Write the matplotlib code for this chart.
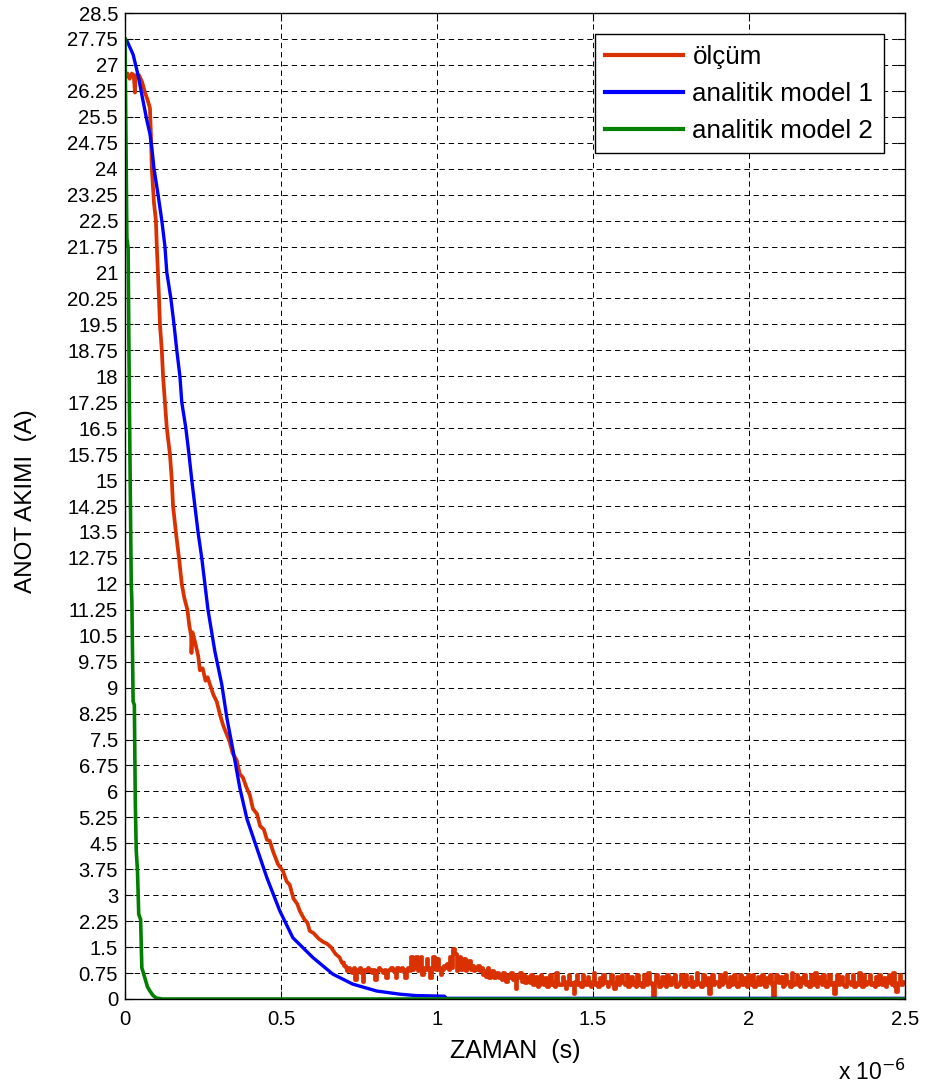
import numpy as np
import matplotlib
matplotlib.use("Agg")
import matplotlib.pyplot as plt

# ---------------- data (time in units of 1e-6 s, current in A) ----------------
red_head_t = [0.000, 0.008, 0.015, 0.022, 0.028, 0.032, 0.034, 0.045, 0.055, 0.064,
              0.072, 0.080, 0.083, 0.086, 0.093, 0.099, 0.102, 0.106, 0.109, 0.112,
              0.118, 0.122, 0.128, 0.134, 0.144, 0.150, 0.154, 0.163, 0.173, 0.182,
              0.190, 0.200, 0.206, 0.212, 0.213, 0.216, 0.225, 0.235, 0.240, 0.249,
              0.258, 0.265, 0.272, 0.283, 0.294, 0.305, 0.315, 0.326, 0.335, 0.345,
              0.358, 0.368, 0.378, 0.390, 0.400, 0.410, 0.423, 0.433, 0.445, 0.455,
              0.464, 0.474, 0.490, 0.506, 0.518, 0.528, 0.540, 0.552, 0.560, 0.575,
              0.585, 0.592, 0.605, 0.620, 0.635, 0.647, 0.660, 0.675, 0.688, 0.695]
red_head_i = [26.6, 26.75, 26.6, 26.75, 26.7, 26.2, 26.7, 26.7, 26.5, 26.2,
              26.0, 25.75, 25.0, 24.0, 23.0, 22.5, 21.75, 20.9, 20.25, 19.5,
              18.75, 18.0, 17.25, 16.5, 15.75, 15.0, 14.25, 13.5, 12.75, 12.0,
              11.6, 11.25, 10.8, 10.5, 10.0, 10.6, 10.3, 9.9, 9.5, 9.56,
              9.2, 9.3, 9.1, 8.8, 8.6, 8.2, 7.9, 7.65, 7.45, 7.1,
              6.9, 6.5, 6.4, 6.1, 5.9, 5.5, 5.35, 5.0, 4.9, 4.6,
              4.57, 4.28, 3.9, 3.7, 3.4, 3.3, 2.9, 2.75, 2.55, 2.3,
              2.2, 1.97, 1.9, 1.75, 1.65, 1.6, 1.5, 1.3, 1.2, 1.05]
# tail of the measurement, sampled every 0.005e-6 s starting at 0.70e-6 s
red_tail_start = 0.70
red_tail_step = 0.005
red_tail_i = [
    1.05, 0.95, 0.9, 0.8, 0.9, 0.85, 0.75, 0.9, 0.55, 0.85,
    0.8, 0.9, 0.75, 0.5, 0.85, 0.8, 0.9, 0.8, 0.85, 0.75,
    0.85, 0.55, 0.8, 0.9, 0.85, 0.8, 0.75, 0.85, 0.6, 0.8,
    0.85, 0.9, 0.8, 0.85, 0.6, 0.9, 0.85, 0.8, 0.9, 0.85,
    0.6, 0.85, 0.9, 0.8, 1.2, 0.85, 0.9, 1.2, 0.8, 0.9,
    1.2, 0.7, 0.9, 0.85, 1.15, 0.9, 0.6, 0.85, 1.2, 0.9,
    0.85, 1.15, 0.9, 0.7, 0.85, 0.95, 0.9, 1.0, 0.85, 1.2,
    0.9, 1.45, 1.3, 0.8, 0.95, 1.2, 0.85, 0.9, 1.15, 0.8,
    0.9, 1.1, 0.85, 0.95, 0.8, 0.9, 0.85, 0.95, 0.8, 0.9,
    0.7, 0.8, 0.65, 0.9, 0.6, 0.75, 0.8, 0.6, 0.7, 0.75,
    0.6, 0.7, 0.55, 0.75, 0.65, 0.5, 0.7, 0.6, 0.75, 0.55,
    0.7, 0.3, 0.6, 0.65, 0.75, 0.5, 0.7, 0.45, 0.65, 0.55,
    0.45, 0.7, 0.4, 0.45, 0.65, 0.35, 0.4, 0.7, 0.45, 0.4,
    0.6, 0.35, 0.45, 0.7, 0.4, 0.5, 0.35, 0.75, 0.45, 0.4,
    0.4, 0.65, 0.45, 0.3, 0.5, 0.7, 0.4, 0.45, 0.15, 0.5,
    0.7, 0.4, 0.45, 0.35, 0.7, 0.5, 0.4, 0.65, 0.45, 0.35,
    0.5, 0.75, 0.4, 0.45, 0.35, 0.6, 0.4, 0.7, 0.45, 0.5,
    0.35, 0.45, 0.7, 0.4, 0.3, 0.45, 0.65, 0.4, 0.5, 0.7,
    0.45, 0.4, 0.7, 0.35, 0.45, 0.65, 0.4, 0.5, 0.35, 0.7,
    0.4, 0.45, 0.35, 0.7, 0.5, 0.4, 0.75, 0.45, 0.4, 0.1,
    0.45, 0.7, 0.5, 0.35, 0.45, 0.65, 0.4, 0.35, 0.7, 0.45,
    0.4, 0.6, 0.45, 0.7, 0.35, 0.4, 0.5, 0.7, 0.45, 0.35,
    0.7, 0.4, 0.45, 0.65, 0.35, 0.5, 0.4, 0.75, 0.45, 0.4,
    0.35, 0.7, 0.45, 0.4, 0.6, 0.15, 0.45, 0.7, 0.4, 0.5,
    0.45, 0.35, 0.7, 0.4, 0.45, 0.75, 0.5, 0.35, 0.65, 0.4,
    0.5, 0.7, 0.4, 0.35, 0.45, 0.7, 0.4, 0.6, 0.45, 0.35,
    0.7, 0.45, 0.4, 0.7, 0.35, 0.5, 0.65, 0.4, 0.45, 0.7,
    0.4, 0.35, 0.6, 0.45, 0.7, 0.4, 0.1, 0.45, 0.7, 0.5,
    0.45, 0.65, 0.35, 0.4, 0.7, 0.45, 0.5, 0.35, 0.75, 0.4,
    0.45, 0.7, 0.4, 0.35, 0.6, 0.45, 0.7, 0.4, 0.5, 0.35,
    0.7, 0.4, 0.45, 0.75, 0.35, 0.45, 0.65, 0.4, 0.7, 0.45,
    0.35, 0.5, 0.7, 0.4, 0.45, 0.15, 0.5, 0.7, 0.4, 0.45,
    0.65, 0.4, 0.35, 0.7, 0.45, 0.5, 0.4, 0.7, 0.35, 0.45,
    0.4, 0.75, 0.45, 0.35, 0.7, 0.4, 0.5, 0.45, 0.7, 0.4,
    0.45, 0.35, 0.65, 0.4, 0.7, 0.45, 0.4, 0.6, 0.35, 0.5,
    0.7, 0.45, 0.4, 0.75, 0.35, 0.2, 0.45, 0.7, 0.4, 0.5,
    0.45]

blue_t = [0.000, 0.006, 0.026, 0.042, 0.058, 0.070, 0.080, 0.086, 0.093, 0.106,
          0.118, 0.128, 0.134, 0.147, 0.157, 0.166, 0.176, 0.182, 0.195, 0.205,
          0.214, 0.224, 0.234, 0.246, 0.256, 0.266, 0.288, 0.310, 0.327, 0.346,
          0.368, 0.391, 0.423, 0.455, 0.496, 0.538, 0.602, 0.666, 0.730, 0.807,
          0.880, 0.930, 1.024, 1.030, 2.500]
blue_i = [27.75, 27.7, 27.3, 26.7, 25.95, 25.4, 25.0, 24.6, 24.0, 23.25,
          22.5, 21.75, 21.0, 20.25, 19.5, 18.75, 18.0, 17.25, 16.5, 15.75,
          15.0, 14.25, 13.5, 12.75, 12.0, 11.25, 10.05, 9.1, 8.1, 7.2,
          6.1, 5.2, 4.35, 3.5, 2.55, 1.77, 1.2, 0.72, 0.43, 0.23,
          0.14, 0.1, 0.08, 0.02, 0.02]

green_t = [0.000, 0.002, 0.006, 0.010, 0.014, 0.020, 0.022, 0.026, 0.030, 0.033,
           0.036, 0.040, 0.044, 0.050, 0.054, 0.064, 0.072, 0.080, 0.090, 0.100,
           0.120, 2.500]
green_i = [27.75, 26.0, 22.0, 21.7, 17.3, 12.0, 11.5, 8.6, 8.5, 5.7,
           4.3, 3.7, 2.45, 2.3, 0.9, 0.6, 0.35, 0.23, 0.1, 0.03,
           0.0, 0.0]

labels = ["ölçüm", "analitik model 1", "analitik model 2"]
colors = ["#DA3100", "#0000FF", "#008000"]
x_ticks = [0, 0.5, 1, 1.5, 2, 2.5]
y_ticks = [round(0.75 * k, 2) for k in range(39)]

# ---------------- figure ----------------
plt.rcParams['font.family'] = ['Liberation Sans', 'DejaVu Sans']
W, H = 929, 1089
fig = plt.figure(figsize=(W / 100, H / 100), dpi=100)
L, R, T, B = 125, 905, 13, 999
ax = fig.add_axes([L / W, 1 - B / H, (R - L) / W, (B - T) / H])

red_tail_t = list(np.round(red_tail_start + red_tail_step * np.arange(len(red_tail_i)), 4))

ax.plot(red_head_t + red_tail_t[:1], red_head_i + red_tail_i[:1], color=colors[0],
        lw=2.7, label=labels[0])
ax.plot(red_tail_t, red_tail_i, color=colors[0], lw=2.7, drawstyle='steps-mid')
ax.plot(blue_t, blue_i, color=colors[1], lw=2.4, label=labels[1])
ax.plot(green_t, green_i, color=colors[2], lw=2.6, label=labels[2])

ax.set_xlim(0, 2.5)
ax.set_ylim(0, 28.5)
ax.set_xticks(x_ticks)
ax.set_xticklabels(["%g" % v for v in x_ticks])
ax.set_yticks(y_ticks)
ax.set_yticklabels(["%g" % v for v in y_ticks])
ax.tick_params(axis='both', direction='in', length=6, width=0.8, labelsize=14.6,
               top=True, right=True, colors='black')
ax.tick_params(axis='x', pad=8)
ax.tick_params(axis='y', pad=5)
ax.grid(True, color='black', linestyle=(0, (5.5, 4)), linewidth=0.7)
for s in ax.spines.values():
    s.set_linewidth(1.0)
    s.set_color('black')

ax.set_xlabel("ZAMAN  (s)", fontsize=18, va='top')
ax.xaxis.set_label_coords(0.5, (B - 1039) / (B - T))
ax.set_ylabel("ANOT AKIMI  (A)", fontsize=17.5)
ax.yaxis.set_label_coords((37 - L) / (R - L), 0.505)

fig.text(838 / W, 1 - 1072 / H, r"x 10$^{-6}$", fontsize=16.5, ha='left', va='center')

leg = ax.legend(loc='upper right', fontsize=18.7, fancybox=False, framealpha=1,
                edgecolor='black', handlelength=3.0, handletextpad=0.35,
                labelspacing=0.5, borderpad=0.4, borderaxespad=0.82)
leg.get_frame().set_linewidth(1.0)
for line in leg.get_lines():
    line.set_linewidth(3)

fig.savefig("out.png", dpi=100, facecolor='white')
